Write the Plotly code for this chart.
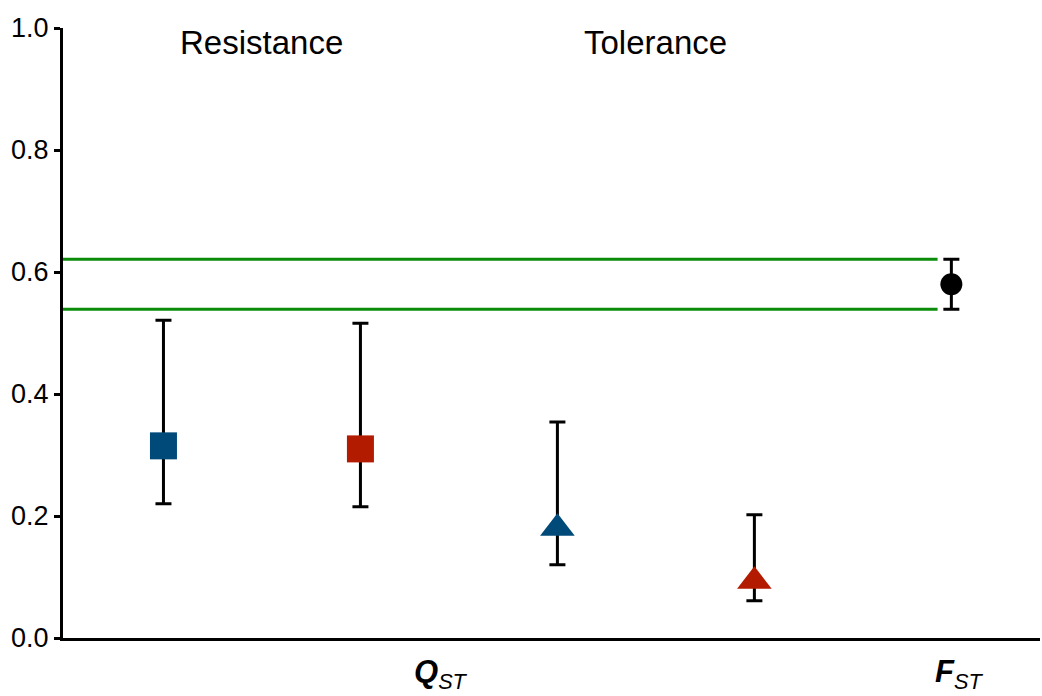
import plotly.graph_objects as go

# Data
groups = ["Resistance (pop A)", "Resistance (pop B)", "Tolerance (pop A)", "Tolerance (pop B)", "FST"]
x_pos = [1, 2, 3, 4, 5]
qst_values = [0.315, 0.310, 0.180, 0.093]
qst_upper = [0.521, 0.516, 0.354, 0.202]
qst_lower = [0.220, 0.215, 0.120, 0.061]
fst_value = 0.580
fst_upper = 0.621
fst_lower = 0.539
colors = ["#004a7a", "#b31b00", "#004a7a", "#b31b00"]
symbols = ["square", "square", "triangle-up", "triangle-up"]
y_ticks = [0.0, 0.2, 0.4, 0.6, 0.8, 1.0]

FONT = "Liberation Sans, Arial, Helvetica, sans-serif"

fig = go.Figure()

# Green band lines (FST CI)
for yv in [fst_upper, fst_lower]:
    fig.add_trace(go.Scatter(
        x=[0.49, 4.93], y=[yv, yv], mode="lines",
        line=dict(color="#0a8c0a", width=3), hoverinfo="skip", showlegend=False))

# QST points
for i in range(4):
    fig.add_trace(go.Scatter(
        x=[x_pos[i]], y=[qst_values[i]], mode="markers",
        marker=dict(symbol=symbols[i], color=colors[i],
                    size=27 if symbols[i] == "square" else 30, line=dict(width=0)),
        error_y=dict(type="data", symmetric=False,
                     array=[qst_upper[i] - qst_values[i]],
                     arrayminus=[qst_values[i] - qst_lower[i]],
                     color="black", thickness=3, width=8),
        showlegend=False))

# FST point
fig.add_trace(go.Scatter(
    x=[x_pos[4]], y=[fst_value], mode="markers",
    marker=dict(symbol="circle", color="black", size=22),
    error_y=dict(type="data", symmetric=False,
                 array=[fst_upper - fst_value], arrayminus=[fst_value - fst_lower],
                 color="black", thickness=3, width=8),
    showlegend=False))

fig.update_layout(
    width=1042, height=696,
    margin=dict(l=63, r=2, t=28, b=58),
    plot_bgcolor="white", paper_bgcolor="white",
    font=dict(family=FONT, color="black", size=27),
    xaxis=dict(range=[0.49, 5.45], showgrid=False, zeroline=False,
               showticklabels=False, ticks="", showline=True,
               linecolor="black", linewidth=3),
    yaxis=dict(range=[0, 1], tickvals=y_ticks, ticktext=[f"{v:.1f}" for v in y_ticks],
               showgrid=False, zeroline=False, showline=True, linecolor="black",
               linewidth=3, ticks="outside", ticklen=6, tickwidth=3, tickcolor="black",
               tickfont=dict(size=27, family=FONT, color="black")),
    annotations=[
        dict(text="Resistance", x=1.5, y=1.0, xref="x", yref="y", yanchor="middle",
             yshift=-14, showarrow=False, font=dict(size=33, family=FONT)),
        dict(text="Tolerance", x=3.5, y=1.0, xref="x", yref="y", yanchor="middle",
             yshift=-14, showarrow=False, font=dict(size=33, family=FONT)),
        dict(text="<b><i>Q</i></b><sub><i>ST</i></sub>", x=2.41, y=0, xref="x", yref="y",
             yanchor="top", yshift=-14, showarrow=False, font=dict(size=31, family=FONT)),
        dict(text="<b><i>F</i></b><sub><i>ST</i></sub>", x=5.04, y=0, xref="x", yref="y",
             yanchor="top", yshift=-14, showarrow=False, font=dict(size=31, family=FONT)),
    ],
)

fig.write_html("out.html")
